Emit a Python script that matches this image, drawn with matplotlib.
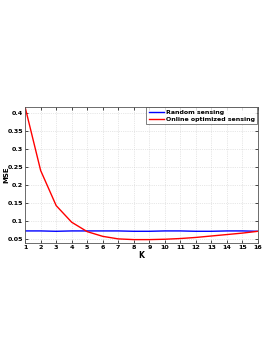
import matplotlib
matplotlib.use("Agg")
import matplotlib.pyplot as plt
import numpy as np

K = np.arange(1, 17)
mse_random = [0.073, 0.073, 0.072, 0.073, 0.073, 0.073, 0.073, 0.072,
              0.072, 0.073, 0.073, 0.072, 0.072, 0.073, 0.073, 0.072]
mse_online = [0.415, 0.240, 0.143, 0.097, 0.071, 0.058, 0.051, 0.049,
              0.049, 0.050, 0.052, 0.055, 0.059, 0.063, 0.067, 0.072]

plt.rcParams['font.family'] = 'DejaVu Sans'
plt.rcParams['font.weight'] = 'bold'

fig = plt.figure(figsize=(2.73, 3.53), dpi=100)
ax = fig.add_axes((0.092, 0.3125, 0.853, 0.3855))

ax.plot(K, mse_random, color='blue', lw=1.0, label='Random sensing')
ax.plot(K, mse_online, color='red', lw=1.0, label='Online optimized sensing')

ax.set_xlim(1, 16)
ax.set_ylim(0.0405, 0.4165)
ax.set_xticks(K)
ax.set_yticks([0.05, 0.1, 0.15, 0.2, 0.25, 0.3, 0.35, 0.4])
ax.set_yticklabels(['0.05', '0.1', '0.15', '0.2', '0.25', '0.3', '0.35', '0.4'])
ax.tick_params(labelsize=4.6, length=2, width=0.5, direction='in', pad=1.5,
               top=True, right=True)
ax.grid(True, linestyle=':', color='#d0d0d0', lw=0.5)
for s in ax.spines.values():
    s.set_linewidth(0.6)
    s.set_color('#555555')

ax.set_xlabel('K', fontsize=5.5, fontweight='bold', labelpad=1)
ax.set_ylabel('MSE', fontsize=5.0, fontweight='bold', labelpad=0)
ax.yaxis.set_label_coords(-0.068, 0.5)

leg = ax.legend(loc='upper right', fontsize=4.5, frameon=True, fancybox=False,
                handlelength=2.4, borderpad=0.35, labelspacing=0.25,
                handletextpad=0.4, borderaxespad=0.1)
leg.get_frame().set_edgecolor('#444444')
leg.get_frame().set_linewidth(0.6)

fig.savefig('out.png', dpi=100)
